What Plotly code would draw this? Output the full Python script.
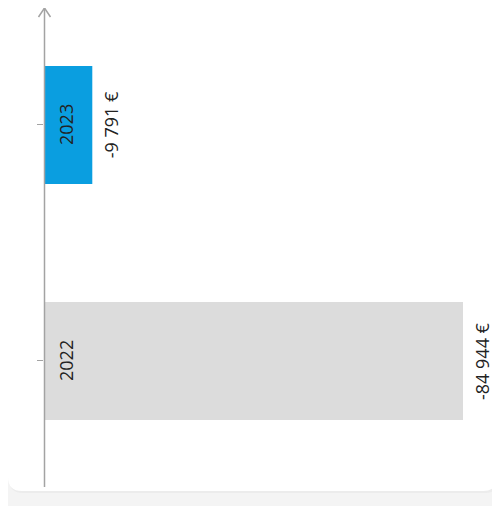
"""Résultat net par année : barres horizontales (valeur absolue), libellés pivotés."""
import plotly.graph_objects as go

years = ["2022", "2023"]
results = [-84944, -9791]
value_labels = ["-84 944 €", "-9 791 €"]
bar_colors = ["#dcdcdc", "#0a9ee0"]

# la page ajoute 8 px de marge au body : on travaille en pixels écran puis on décale
OX, OY = 8, 8
W, H = 500 - OX, 506 - OY
L, R, T, B = 44 - OX, 3, 15 - OY, 19
PW, PH = W - L - R, H - T - B
FONT = "Open Sans"
TXT = "#222222"
AXIS = "#a3a3a3"


def px2paper(x, y):
    return (x - OX - L) / PW, (H - B - (y - OY)) / PH


def rounded_rect(x0, y0, x1, y1, r):
    def p(x, y):
        a, b = px2paper(x, y)
        return f"{a:.5f},{b:.5f}"
    return (f"M {p(x0 + r, y0)} L {p(x1 - r, y0)} Q {p(x1, y0)} {p(x1, y0 + r)} "
            f"L {p(x1, y1 - r)} Q {p(x1, y1)} {p(x1 - r, y1)} "
            f"L {p(x0 + r, y1)} Q {p(x0, y1)} {p(x0, y1 - r)} "
            f"L {p(x0, y0 + r)} Q {p(x0, y0)} {p(x0 + r, y0)} Z")


pos = list(range(len(years)))
mags = [abs(v) for v in results]
xmax = max(mags) * PW / 419

fig = go.Figure(go.Bar(
    x=mags, y=pos, orientation="h",
    marker=dict(color=bar_colors, line_width=0),
    width=0.5, hoverinfo="skip",
))

# libellés : année dans la barre, valeur au bout
for i, y in enumerate(pos):
    fig.add_annotation(x=0, y=y, xref="x", yref="y", text=years[i], textangle=-90,
                       showarrow=False, xshift=22, font=dict(family=FONT, size=18, color=TXT))
    fig.add_annotation(x=mags[i], y=y, xref="x", yref="y", text=value_labels[i], textangle=-90,
                       showarrow=False, xshift=19, font=dict(family=FONT, size=18, color=TXT))

# carte blanche arrondie + ombre légère
fig.add_shape(type="path", xref="paper", yref="paper", layer="below",
              path=rounded_rect(9, -16, 499, 493, 14),
              fillcolor="#ececec", line_width=0)
fig.add_shape(type="path", xref="paper", yref="paper", layer="below",
              path=rounded_rect(8, -18, 497, 491, 14),
              fillcolor="white", line_width=0)

# axe vertical avec flèche
x0, y_top = px2paper(44.5, 8)
_, y_bot = px2paper(44.5, 487)
fig.add_shape(type="line", xref="paper", yref="paper", x0=x0, x1=x0, y0=y_bot, y1=y_top,
              line=dict(color=AXIS, width=1.5))
xa, ya = px2paper(38.5, 17)
xb, _ = px2paper(50.5, 17)
fig.add_shape(type="path", xref="paper", yref="paper",
              path=f"M {xa:.5f},{ya:.5f} L {x0:.5f},{y_top:.5f} L {xb:.5f},{ya:.5f}",
              line=dict(color=AXIS, width=1.5))

fig.update_layout(
    width=W, height=H, margin=dict(l=L, r=R, t=T, b=B),
    paper_bgcolor="#f4f4f4", plot_bgcolor="rgba(0,0,0,0)",
    showlegend=False, bargap=0.5,
)
fig.update_xaxes(range=[0, xmax], visible=False, fixedrange=True)
fig.update_yaxes(range=[-0.534, 1.466], tickvals=pos, ticktext=["", ""],
                 ticks="outside", ticklen=6, tickcolor=AXIS, tickwidth=1,
                 showgrid=False, zeroline=False, showline=False, fixedrange=True)

fig.write_html("out.html")
